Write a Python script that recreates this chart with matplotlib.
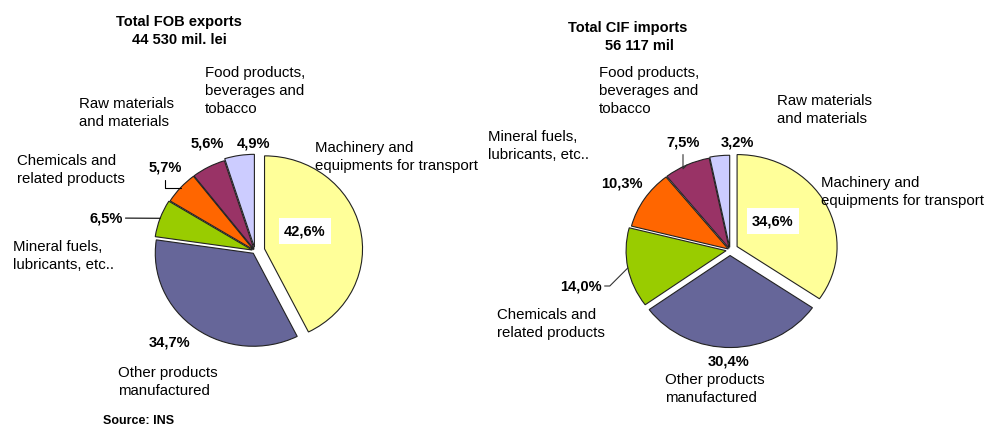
import matplotlib
matplotlib.use("Agg")
import matplotlib.pyplot as plt

plt.rcParams['font.family'] = ['Liberation Sans', 'DejaVu Sans']

# Exports (FOB) - order clockwise from 12 o'clock
exp_categories = ["Machinery and\nequipments for transport", "Other products\nmanufactured",
                  "Mineral fuels,\nlubricants, etc..", "Chemicals and\nrelated products",
                  "Raw materials\nand materials", "Food products,\nbeverages and\ntobacco"]
exp_values = [42.6, 34.7, 6.5, 5.7, 5.6, 4.9]

# Imports (CIF)
imp_categories = ["Machinery and\nequipments for transport", "Other products\nmanufactured",
                  "Chemicals and\nrelated products", "Mineral fuels,\nlubricants, etc..",
                  "Food products,\nbeverages and\ntobacco", "Raw materials\nand materials"]
imp_values = [34.6, 30.4, 14.0, 10.3, 7.5, 3.2]

colors = ["#FFFF99", "#666699", "#99CC00", "#FF6600", "#993366", "#CCCCFF"]

W, H = 985, 427
fig = plt.figure(figsize=(W / 100, H / 100), dpi=100)


def fx(px):
    return px / W


def fy(py):
    return 1 - py / H


def pct(v):
    return f"{v:.1f}".replace(".", ",") + "%"


def make_pie(cx, cy, rx, ry, values, explode):
    lim = 1.25
    ax = fig.add_axes([fx(cx - lim * rx), fy(cy + lim * ry), 2 * lim * rx / W, 2 * lim * ry / H])
    wedges, _ = ax.pie(values, colors=colors, startangle=90, counterclock=False,
                       explode=explode,
                       wedgeprops=dict(edgecolor="#222222", linewidth=0.8))
    ax.set_xlim(-lim, lim)
    ax.set_ylim(-lim, lim)
    ax.set_aspect("auto")
    ax.axis("off")
    return ax, wedges


def edge_point(w, frac=1.0):
    import math
    t = math.radians((w.theta1 + w.theta2) / 2)
    return (w.center[0] + frac * w.r * math.cos(t), w.center[1] + frac * w.r * math.sin(t))


cat_kw = dict(fontsize=10.8, linespacing=1.38, va="center", ha="left")
pct_kw = dict(fontsize=10.5, fontweight="bold", ha="center", va="center")

# ---------------- Exports ----------------
ax1, w1 = make_pie(255, 252, 98, 93, exp_values, [0.1, 0.03, 0.03, 0.02, 0.02, 0.04])

fig.text(fx(179), fy(22), "Total FOB exports", fontsize=10.5, fontweight="bold", ha="center", va="center")
fig.text(fx(179), fy(40), "44 530 mil. lei", fontsize=10.5, fontweight="bold", ha="center", va="center")

exp_cat_pos = [(315, 157), (118, 382), (13, 256), (17, 170), (79, 113), (205, 91)]
for lab, (x, y) in zip(exp_categories, exp_cat_pos):
    fig.text(fx(x), fy(y), lab, **cat_kw)

exp_pct_pos = [(305, 232), (170, 343), (106, 219), (165, 168), (207, 144), (254, 144)]
for i, (v, (x, y)) in enumerate(zip(exp_values, exp_pct_pos)):
    kw = dict(pct_kw)
    if i == 0:
        kw["bbox"] = dict(facecolor="white", edgecolor="none", pad=4)
    if i == 2:
        ax1.annotate(pct(v), xy=edge_point(w1[i]), xytext=(fx(x), fy(y)), textcoords="figure fraction",
                     arrowprops=dict(arrowstyle="-", color="black", lw=0.8, shrinkA=0, shrinkB=0), **kw)
    elif i == 3:
        ax1.annotate(pct(v), xy=edge_point(w1[i]), xytext=(fx(x), fy(y)), textcoords="figure fraction",
                     arrowprops=dict(arrowstyle="-", color="black", lw=0.8, shrinkA=2, shrinkB=0,
                                     connectionstyle="angle,angleA=90,angleB=0,rad=0"), **kw)
    else:
        fig.text(fx(x), fy(y), pct(v), **kw)

fig.text(fx(103), fy(421), "Source: INS", fontsize=9, fontweight="bold", ha="left", va="center")

# ---------------- Imports ----------------
ax2, w2 = make_pie(730, 251, 100, 92, imp_values, [0.08, 0.06, 0.04, 0.02, 0.02, 0.03])

fig.text(fx(628), fy(28), "Total CIF imports", fontsize=10.5, fontweight="bold", ha="center", va="center")
fig.text(fx(639), fy(46), "56 117 mil", fontsize=10.5, fontweight="bold", ha="center", va="center")

imp_cat_pos = [(821, 192), (665, 389), (497, 324), (488, 146), (599, 91), (777, 110)]
for lab, (x, y) in zip(imp_categories, imp_cat_pos):
    fig.text(fx(x), fy(y), lab, **cat_kw)

imp_pct_pos = [(773, 222), (729, 362), (581, 287), (622, 183), (683, 143), (737, 143)]
for i, (v, (x, y)) in enumerate(zip(imp_values, imp_pct_pos)):
    kw = dict(pct_kw)
    if i == 0:
        kw["bbox"] = dict(facecolor="white", edgecolor="none", pad=4)
    if i == 2:
        ax2.annotate(pct(v), xy=edge_point(w2[i]), xytext=(fx(x), fy(y)), textcoords="figure fraction",
                     arrowprops=dict(arrowstyle="-", color="#333333", lw=0.8, shrinkA=0, shrinkB=0,
                                     connectionstyle="angle,angleA=0,angleB=45,rad=0"), **kw)
    elif i == 4:
        ax2.annotate(pct(v), xy=edge_point(w2[i]), xytext=(fx(x), fy(y)), textcoords="figure fraction",
                     arrowprops=dict(arrowstyle="-", color="#333333", lw=0.8, shrinkA=2, shrinkB=0,
                                     connectionstyle="angle,angleA=90,angleB=45,rad=0"), **kw)
    else:
        fig.text(fx(x), fy(y), pct(v), **kw)

fig.savefig("out.png", dpi=100, facecolor="white")
